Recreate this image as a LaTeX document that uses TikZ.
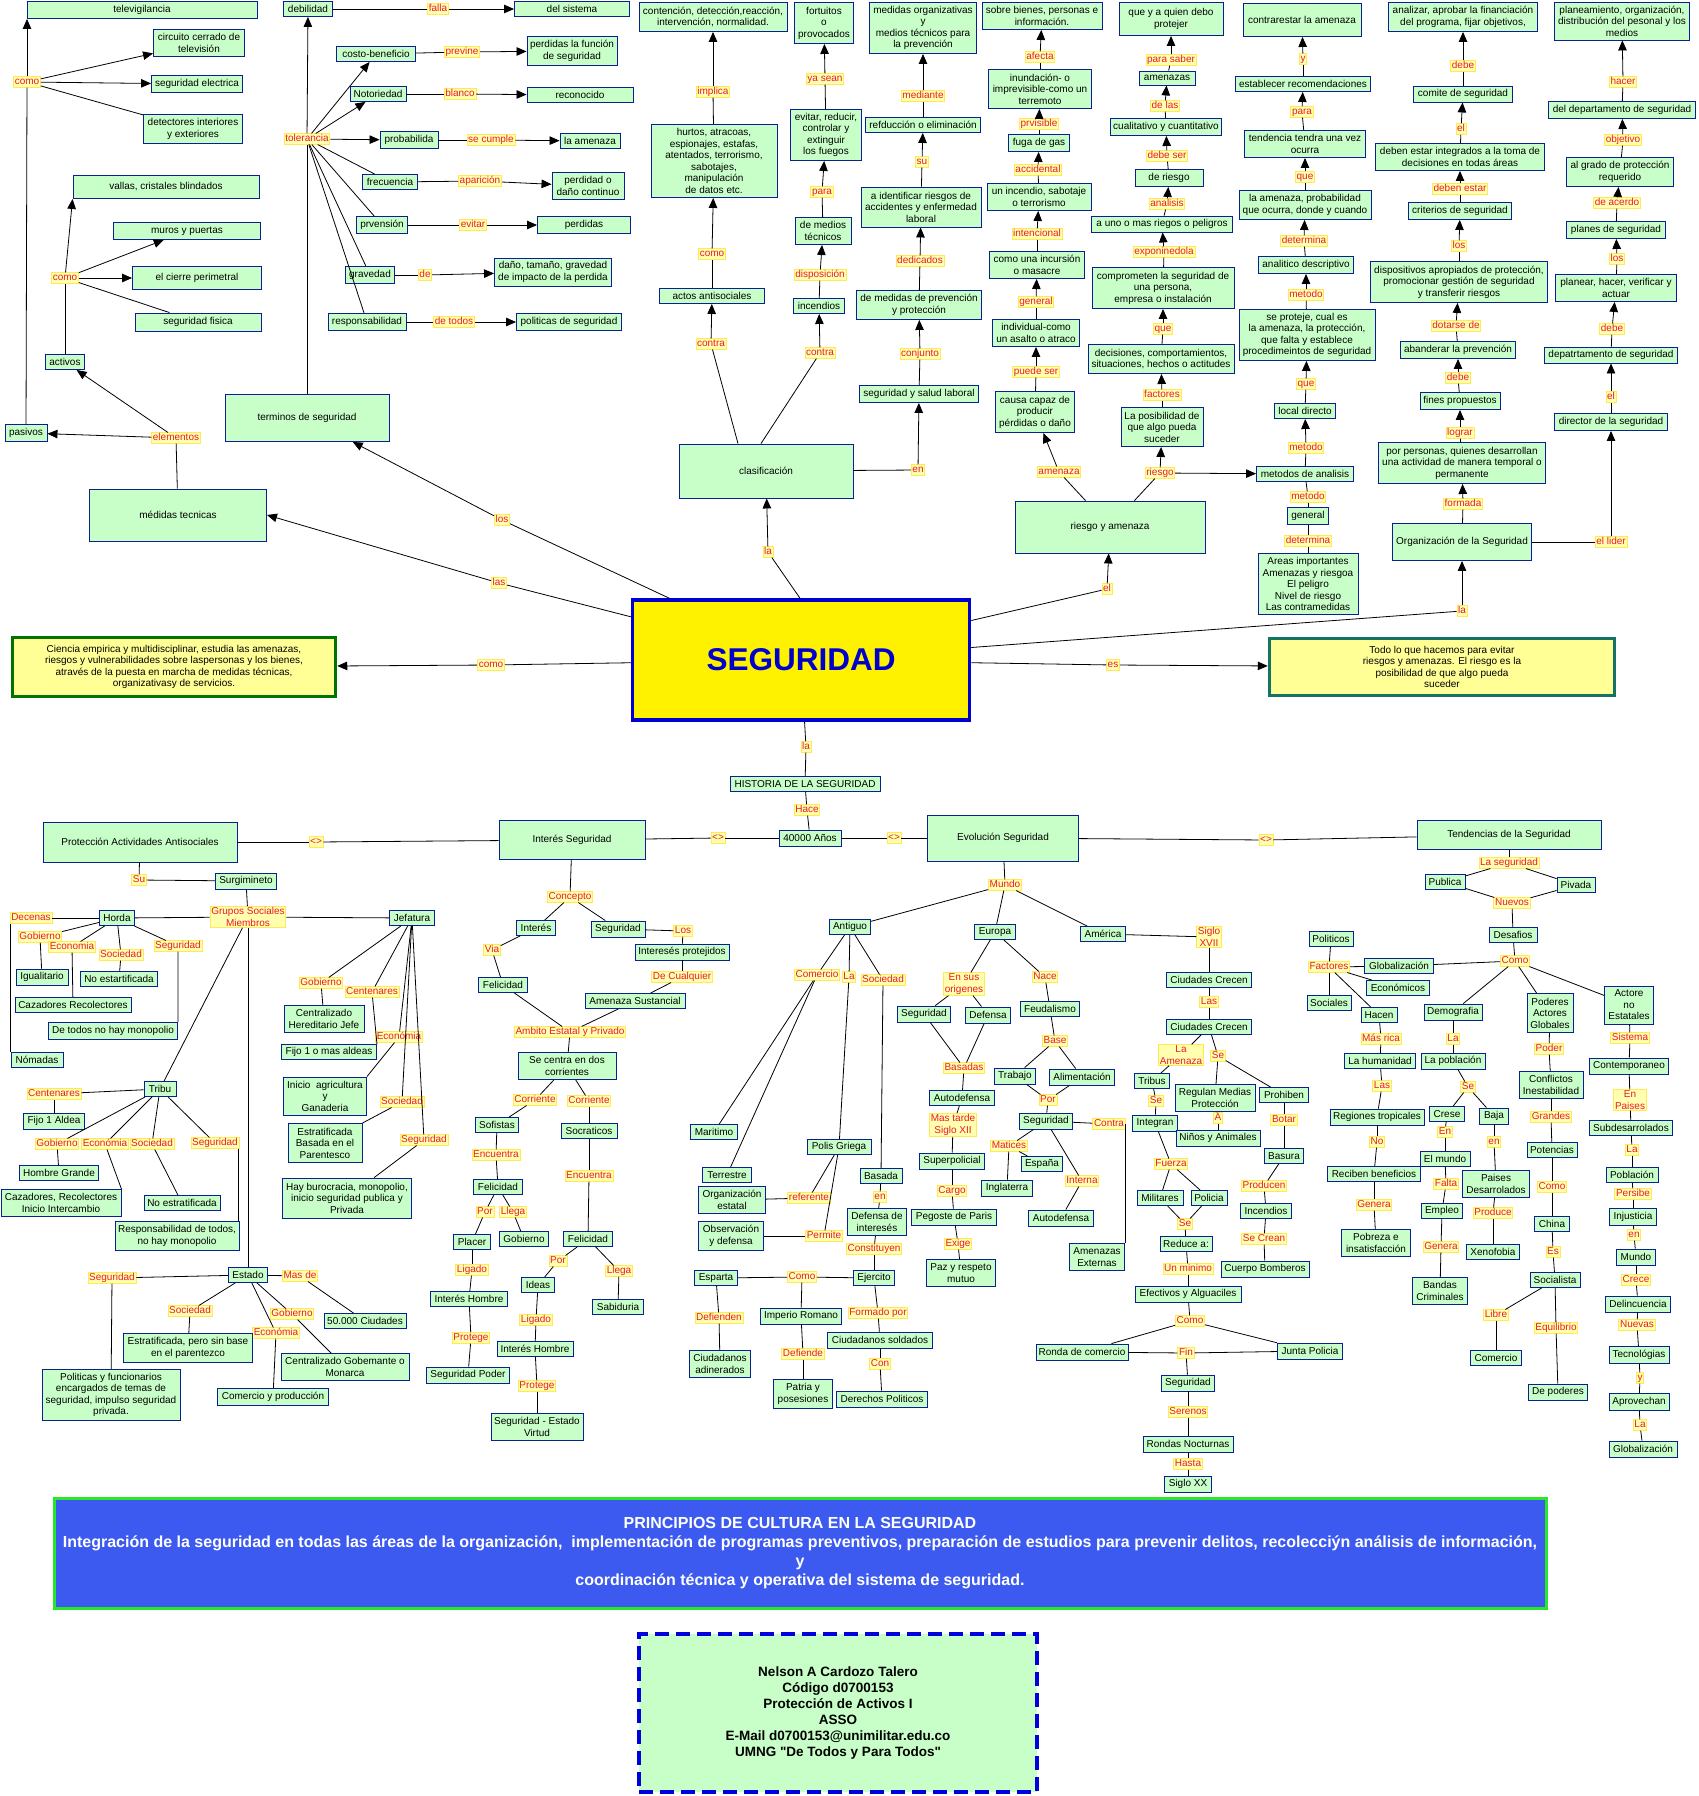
\documentclass[tikz,border=0pt]{standalone}
\usepackage{fontspec}
\setmainfont{Liberation Sans}
\usetikzlibrary{arrows.meta}
\definecolor{gfill}{RGB}{200,255,200}
\definecolor{bdr}{RGB}{10,30,150}
\definecolor{lfill}{RGB}{255,255,175}
\definecolor{lbd}{RGB}{255,235,80}
\definecolor{ltx}{RGB}{235,25,50}
\definecolor{segb}{RGB}{0,0,205}
\definecolor{ylw}{RGB}{255,255,150}
\definecolor{dkg}{RGB}{0,115,0}
\definecolor{tealb}{RGB}{20,115,100}
\definecolor{pblue}{RGB}{60,90,240}
\definecolor{pgreen}{RGB}{40,230,40}
\definecolor{dashb}{RGB}{0,0,220}
\newcommand\fsz{\fontsize{10}{11.5}\selectfont}
\tikzset{
 bx/.style={draw=bdr,fill=gfill,line width=0.9pt,inner xsep=2pt,inner ysep=1pt,font=\fsz,align=center,text=black},
 lb/.style={draw=lbd,fill=lfill,line width=0.8pt,inner xsep=1.2pt,inner ysep=0.5pt,font=\fsz,text=ltx,text height=7.3pt,text depth=2pt},
 lb2/.style={draw=lbd,fill=lfill,line width=0.8pt,inner xsep=1.2pt,inner ysep=1pt,font=\fsz,text=ltx,align=center},
 cn/.style={line width=0.8pt,black},
 arw/.style={line width=0.8pt,black,-{Triangle[length=10pt,width=8.5pt]}},
 segst/.style={draw=segb,line width=3.5pt,fill=yellow,text=segb,font=\fontsize{31.5}{36}\selectfont\bfseries},
 cist/.style={draw=dkg,line width=3.5pt,fill=ylw},
 tost/.style={draw=tealb,line width=3.5pt,fill=ylw},
}
\newcommand\Bx[7][]{\node[bx,minimum width=#5,minimum height=#6,#1] (#2) at (#3,#4) {#7};}
\newcommand\Lb[4]{\node[lb] (#1) at (#2,#3) {#4};}
\newcommand\Lbb[4]{\node[lb2] (#1) at (#2,#3) {#4};}
\begin{document}
\begin{tikzpicture}[x=1pt,y=-1pt]
\fill[white] (0,0) rectangle (1698,1796);
\useasboundingbox (0,0) rectangle (1698,1796);
% ---------- upper left
\Bx{tele}{142}{10}{230}{17}{televigilancia}
\Bx{cct}{199}{43}{91}{27}{circuito cerrado de\\televisión}
\Bx{sele}{197}{84}{91}{17}{seguridad electrica}
\Bx{det}{193}{129}{99}{29}{detectores interiores\\y exteriores}
\Lb{como1}{27}{82}{como}
\Bx{vall}{166}{187}{186}{23}{vallas, cristales blindados}
\Bx{muros}{187}{231}{147}{17}{muros y puertas}
\Bx{cierre}{197}{278}{129}{23}{el cierre perimetral}
\Bx{sfis}{198}{322}{126}{18}{seguridad fisica}
\Lb{como2}{65}{278}{como}
\Bx{activ}{65}{362}{39}{15}{activos}
\Bx{pasiv}{26}{433}{42}{17}{pasivos}
\Lb{elem}{176}{438}{elementos}
\Bx{medt}{178}{515}{177}{52}{médidas tecnicas}
\Bx{term}{307}{418}{164}{47}{terminos de seguridad}
\Lb{los1}{502}{520}{los}
\Lb{las1}{499}{583}{las}
\Bx[cist]{cien}{174}{667}{323}{59}{Ciencia empirica y multidisciplinar, estudia las amenazas,\\riesgos y vulnerabilidades sobre laspersonas y los bienes,\\através de la puesta en marcha de medidas técnicas,\\organizativasy de servicios.}
\Lb{como3}{491}{665}{como}
\Bx{debil}{308}{9}{49}{15}{debilidad}
\Lb{falla}{438}{9}{falla}
\Bx{dsis}{572}{9}{115}{15}{del sistema}
\Bx{costo}{376}{54}{79}{15}{costo-beneficio}
\Lb{prev}{462}{52}{previne}
\Bx{perfs}{572}{51}{90}{29}{perdidas la función\\de seguridad}
\Bx{notor}{378}{94}{56}{15}{Notoriedad}
\Lb{blanco}{460}{94}{blanco}
\Bx{recon}{580}{95}{106}{15}{reconocido}
\Lb{toler}{307}{139}{tolerancia}
\Bx{proba}{409}{140}{58}{17}{probabilida}
\Lb{secum}{491}{140}{se cumple}
\Bx{lamen}{590}{141}{60}{15}{la amenaza}
\Bx{frec}{390}{182}{55}{15}{frecuencia}
\Lb{apar}{480}{181}{aparición}
\Bx{perdc}{588}{186}{72}{27}{perdidad o\\daño continuo}
\Bx{prven}{382}{225}{51}{17}{prvensión}
\Lb{evit}{473}{225}{evitar}
\Bx{perd}{584}{225}{93}{17}{perdidas}
\Bx{grav}{370}{275}{49}{17}{gravedad}
\Lb{de1}{425}{275}{de}
\Bx{dano}{553}{272}{117}{28}{daño, tamaño, gravedad\\de impacto de la perdida}
\Bx{resp}{367}{322}{78}{17}{responsabilidad}
\Lb{detod}{454}{322}{de todos}
\Bx{polit}{569}{322}{105}{17}{politicas de seguridad}
% ---------- clasificacion
\Bx{cont}{713}{17}{148}{29}{contención, detección,reacción,\\intervención, normalidad.}
\Lb{impl}{713}{92}{implica}
\Bx{hurt}{714}{161}{126}{73}{hurtos, atracoas,\\espionajes, estafas,\\atentados, terrorismo,\\sabotajes,\\manipulación\\de datos etc.}
\Lb{como4}{712}{254}{como}
\Bx{actos}{712}{296}{105}{15}{actos antisociales}
\Lb{contr1}{711}{344}{contra}
\Bx{fort}{824}{23}{59}{41}{fortuitos\\o\\provocados}
\Lb{yasean}{825}{79}{ya sean}
\Bx{evred}{826}{135}{71}{51}{evitar, reducir,\\controlar y\\extinguir\\los fuegos}
\Lb{para1}{822}{192}{para}
\Bx{dmt}{823}{231}{56}{27}{de medios\\técnicos}
\Lb{disp}{820}{275}{disposición}
\Bx{incen}{819}{306}{51}{15}{incendios}
\Lb{contr2}{820}{353}{contra}
\Bx{medorg}{923}{28}{107}{51}{medidas organizativas\\y\\medios técnicos para\\la prevención}
\Lb{mediante}{923}{96}{mediante}
\Bx{refd}{923}{125}{115}{15}{refducción o eliminación}
\Lb{su1}{922}{162}{su}
\Bx{aiden}{921}{207}{120}{40}{a identificar riesgos de\\accidentes y enfermedad\\laboral}
\Lb{dedic}{920}{261}{dedicados}
\Bx{dmpp}{919}{305}{125}{29}{de medidas de prevención\\y protección}
\Lb{conj}{920}{354}{conjunto}
\Bx{ssl}{919}{394}{119}{17}{seguridad y salud laboral}
\Bx{clas}{766}{471}{174}{54}{clasificación}
\Lb{en1}{918}{470}{en}
\Lb{la1}{768}{552}{la}
% ---------- riesgo y amenaza
\Bx{sobre}{1042}{16}{120}{27}{sobre bienes, personas e\\información.}
\Lb{afecta}{1040}{57}{afecta}
\Bx{inund}{1040}{89}{103}{39}{inundación- o\\imprevisible-como un\\terremoto}
\Lb{prvis}{1039}{124}{prvisible}
\Bx{fuga}{1039}{143}{61}{17}{fuga de gas}
\Lb{accid}{1038}{170}{accidental}
\Bx{uninc}{1039}{197}{104}{27}{un incendio, sabotaje\\o terrorismo}
\Lb{inten}{1037}{234}{intencional}
\Bx{incur}{1037}{265}{95}{27}{como una incursión\\o masacre}
\Lb{gene1}{1036}{302}{general}
\Bx{indiv}{1036}{333}{87}{27}{individual-como\\un asalto o atraco}
\Lb{puede}{1036}{372}{puede ser}
\Bx{causa}{1035}{412}{79}{41}{causa capaz de\\producir\\pérdidas o daño}
\Lb{amen1}{1059}{472}{amenaza}
\Bx{riam}{1110}{527}{190}{52}{riesgo y amenaza}
\Lb{el1}{1107}{589}{el}
\Bx{quien}{1171}{19}{104}{33}{que y a quien debo\\protejer}
\Lb{psaber}{1171}{60}{para saber}
\Bx{amzs}{1167}{78}{56}{14}{amenazas}
\Lb{delas}{1165}{106}{de las}
\Bx{cual}{1166}{127}{111}{17}{cualitativo y cuantitativo}
\Lb{debser}{1167}{156}{debe ser}
\Bx{deri}{1169}{178}{68}{17}{de riesgo}
\Lb{anal}{1167}{204}{analisis}
\Bx{auno}{1162}{224}{141}{16}{a uno o mas riegos o peligros}
\Lb{expo}{1164}{252}{exponinedola}
\Bx{comp}{1163}{288}{142}{41}{comprometen la seguridad de\\una persona,\\empresa o instalación}
\Lb{que1}{1163}{329}{que}
\Bx{decis}{1161}{359}{146}{29}{decisiones, comportamientos,\\situaciones, hechos o actitudes}
\Lb{fact1}{1162}{395}{factores}
\Bx{posib}{1162}{427}{82}{39}{La posibilidad de\\que algo pueda\\suceder}
\Lb{riesg}{1160}{473}{riesgo}
\Bx{contra}{1302}{20}{118}{33}{contrarestar la amenaza}
\Lb{y1}{1303}{59}{y}
\Bx{estab}{1303}{84}{135}{15}{establecer recomendaciones}
\Lb{para2}{1302}{112}{para}
\Bx{tend}{1305}{144}{121}{27}{tendencia tendra una vez\\ocurra}
\Lb{que2}{1305}{177}{que}
\Bx{lamp}{1305}{205}{132}{29}{la amenaza, probabilidad\\que ocurra, donde y cuando}
\Lb{deter1}{1304}{241}{determina}
\Bx{analit}{1306}{265}{95}{17}{analitico descriptivo}
\Lb{met1}{1306}{295}{metodo}
\Bx{seprot}{1307}{335}{136}{51}{se proteje, cual es\\la amenaza, la protección,\\que falta y establece\\procedimeintos de seguridad}
\Lb{que3}{1306}{384}{que}
\Bx{locd}{1305}{411}{61}{15}{local directo}
\Lb{met2}{1306}{448}{metodo}
\Bx{metan}{1305}{474}{97}{15}{metodos de analisis}
\Lb{met3}{1308}{497}{metodo}
\Bx{gener}{1308}{516}{41}{17}{general}
\Lb{deter2}{1308}{541}{determina}
\Bx{areas}{1308}{584}{100}{61}{Areas importantes\\Amenazas y riesgoa\\El peligro\\Nivel de riesgo\\Las contramedidas}
% ---------- organizacion
\Bx{analiz}{1463}{17}{149}{29}{analizar, aprobar la financiación\\del programa, fijar objetivos,}
\Lb{debe1}{1463}{66}{debe}
\Bx{comite}{1463}{94}{99}{16}{comite de seguridad}
\Lb{el2}{1461}{129}{el}
\Bx{debint}{1460}{157}{169}{27}{deben estar integrados a la toma de\\decisiones en todas áreas}
\Lb{debest}{1460}{189}{deben estar}
\Bx{crit}{1460}{211}{103}{17}{criterios de seguridad}
\Lb{los2}{1459}{246}{los}
\Bx{dispo}{1459}{282}{177}{41}{dispositivos apropiados de protección,\\promocionar gestión de seguridad\\y transferir riesgos}
\Lb{dotar}{1456}{326}{dotarse de}
\Bx{aband}{1458}{350}{115}{17}{abanderar la prevención}
\Lb{debe2}{1458}{378}{debe}
\Bx{fines}{1460}{401}{80}{17}{fines propuestos}
\Lb{lograr}{1460}{433}{lograr}
\Bx{porper}{1462}{463}{167}{41}{por personas, quienes desarrollan\\una actividad de manera temporal o\\permanente}
\Lb{formada}{1463}{504}{formada}
\Bx{orgs}{1462}{542}{139}{37}{Organización de la Seguridad}
\Lb{la2}{1462}{611}{la}
\Lb{elider}{1611}{542}{el lider}
\Bx{direc}{1611}{422}{113}{17}{director de la seguridad}
\Lb{el3}{1611}{397}{el}
\Bx{depat}{1611}{355}{133}{16}{depatrtamento de seguridad}
\Lb{debe3}{1612}{329}{debe}
\Bx{planear}{1616}{288}{121}{27}{planear, hacer, verificar y\\actuar}
\Lb{los3}{1617}{259}{los}
\Bx{planes}{1616}{230}{99}{17}{planes de seguridad}
\Lb{deacu}{1617}{203}{de acerdo}
\Bx{grado}{1620}{172}{107}{29}{al grado de protección\\requerido}
\Lb{objet}{1623}{140}{objetivo}
\Bx{deldep}{1622}{110}{147}{17}{del departamento de seguridad}
\Lb{hacer}{1623}{82}{hacer}
\Bx{planea}{1622}{21}{135}{38}{planeamiento, organización,\\distribución del pesonal y los\\medios}
% ---------- center
\Bx[segst]{seg}{801}{660}{337}{120}{SEGURIDAD}
\Lb{es1}{1113}{665}{es}
\Bx[tost]{todo}{1442}{667}{345}{57}{Todo lo que hacemos para evitar\\riesgos y amenazas. El riesgo es la\\posibilidad de que algo pueda\\suceder}
\Lb{la3}{806}{747}{la}
% ---------- historia
\Bx{hist}{805}{784}{150}{15}{HISTORIA DE LA SEGURIDAD}
\Lb{hace}{807}{810}{Hace}
\Bx{anos}{810}{838}{62}{16}{40000 Años}
\Lb{ne1}{718}{838}{<>}
\Lb{ne2}{894}{838}{<>}
\Bx{intseg}{572}{840}{146}{39}{Interés Seguridad}
\Lb{ne3}{316}{842}{<>}
\Bx{protac}{140}{842}{194}{40}{Protección Actividades Antisociales}
\Bx{evol}{1003}{838}{151}{46}{Evolución Seguridad}
\Lb{ne4}{1266}{840}{<>}
\Bx{tendS}{1509}{835}{184}{29}{Tendencias de la Seguridad}
% ---------- proteccion subtree
\Lb{su2}{139}{880}{Su}
\Bx{surg}{246}{881}{61}{16}{Surgimineto}
\Lbb{grup}{248}{917}{Grupos Sociales\\Miembros}
\Bx{horda}{117}{918}{35}{15}{Horda}
\Lb{decen}{31}{918}{Decenas}
\Bx{jefa}{412}{918}{45}{15}{Jefatura}
\Lb{gobH}{40}{937}{Gobierno}
\Lb{ecoH}{72}{947}{Economia}
\Lb{socH}{121}{955}{Sociedad}
\Lb{segH}{178}{946}{Seguridad}
\Bx{igual}{42}{977}{52}{16}{Igualitario}
\Bx{noest}{119}{979}{77}{15}{No estartificada}
\Bx{cazr}{73}{1005}{116}{15}{Cazadores Recolectores}
\Bx{detodos}{113}{1031}{129}{17}{De todos no hay monopolio}
\Bx{nomad}{37}{1060}{52}{15}{Nómadas}
\Lb{gobJ}{321}{983}{Gobierno}
\Lb{cenJ}{372}{992}{Centenares}
\Bx{centh}{324}{1019}{80}{27}{Centralizado\\Hereditario Jefe}
\Lb{ecoJ}{399}{1037}{Económia}
\Bx{fijo1}{329}{1052}{95}{15}{Fijo 1 o mas aldeas}
\Bx{inicio}{325}{1096}{83}{38}{Inicio\ \ agricultura\\y\\Ganaderia}
\Lb{socJ}{402}{1102}{Sociedad}
\Bx{estpar}{325}{1143}{74}{39}{Estratificada\\Basada en el\\Parentesco}
\Lb{segJ}{424}{1140}{Seguridad}
\Bx{hayb}{347}{1198}{129}{40}{Hay burocracia, monopolio,\\inicio seguridad publica y\\Privada}
\Bx{tribu}{160}{1089}{32}{15}{Tribu}
\Lb{cenT}{54}{1094}{Centenares}
\Bx{fijoal}{54}{1121}{61}{16}{Fijo 1 Aldea}
\Lb{gobT}{57}{1144}{Gobierno}
\Lb{ecoT}{105}{1144}{Económia}
\Lb{socT}{152}{1144}{Sociedad}
\Lb{segT}{215}{1143}{Seguridad}
\Bx{hombg}{59}{1173}{79}{15}{Hombre Grande}
\Bx{cazri}{61}{1203}{120}{27}{Cazadores, Recolectores\\Inicio Intercambio}
\Bx{noestr}{182}{1203}{76}{15}{No estratificada}
\Bx{respt}{177}{1236}{124}{29}{Responsabilidad de todos,\\no hay monopolio}
\Bx{estado}{248}{1275}{39}{15}{Estado}
\Lb{segE}{112}{1278}{Seguridad}
\Lb{masde}{300}{1276}{Mas de}
\Lb{socE}{190}{1311}{Sociedad}
\Lb{gobE}{292}{1314}{Gobierno}
\Bx{ciud50}{365}{1321}{82}{15}{50.000 Ciudades}
\Lb{ecoE}{276}{1333}{Económia}
\Bx{estsin}{188}{1348}{129}{29}{Estratificada, pero sin base\\en el parentezco}
\Bx{cgm}{345}{1367}{128}{27}{Centralizado Gobemante o\\Monarca}
\Bx{polfun}{111}{1395}{138}{51}{Politicas y funcionarios\\encargados de temas de\\seguridad, impulso seguridad\\privada.}
\Bx{comprod}{273}{1397}{111}{17}{Comercio y producción}
% ---------- interes seguridad subtree
\Lb{concep}{570}{897}{Concepto}
\Bx{inter}{536}{928}{39}{15}{Interés}
\Bx{segIS}{618}{929}{54}{16}{Seguridad}
\Lb{los4}{683}{931}{Los}
\Lb{via}{492}{950}{Via}
\Bx{intp}{682}{952}{94}{16}{Interesés protejidos}
\Bx{felic}{503}{985}{49}{15}{Felicidad}
\Lb{decual}{682}{977}{De Cualquier}
\Bx{amsus}{635}{1001}{100}{15}{Amenaza Sustancial}
\Lb{ambito}{570}{1032}{Ambito Estatal y Privado}
\Bx{secen}{567}{1066}{98}{27}{Se centra en dos\\corrientes}
\Lb{corrL}{535}{1100}{Corriente}
\Lb{corrR}{589}{1101}{Corriente}
\Bx{sofis}{497}{1125}{43}{15}{Sofistas}
\Bx{socra}{589}{1131}{56}{15}{Socraticos}
\Lb{encL}{496}{1155}{Encuentra}
\Lb{encR}{589}{1176}{Encuentra}
\Bx{felL}{498}{1187}{49}{15}{Felicidad}
\Bx{felR}{588}{1239}{49}{15}{Felicidad}
\Lb{porL}{485}{1212}{Por}
\Lb{llegL}{513}{1212}{Llega}
\Bx{placer}{472}{1242}{37}{15}{Placer}
\Bx{gobL}{524}{1239}{49}{15}{Gobierno}
\Lb{ligL}{472}{1270}{Ligado}
\Bx{ihL}{469}{1299}{77}{15}{Interés Hombre}
\Lb{proL}{471}{1338}{Protege}
\Bx{segpod}{468}{1375}{83}{16}{Seguridad Poder}
\Lb{porR}{558}{1261}{Por}
\Lb{llegR}{619}{1271}{Llega}
\Bx{ideas}{538}{1285}{33}{15}{Ideas}
\Bx{sabid}{618}{1307}{51}{15}{Sabiduria}
\Lb{ligR}{536}{1320}{Ligado}
\Bx{ihR}{535}{1349}{76}{15}{Interés Hombre}
\Lb{proR}{537}{1386}{Protege}
\Bx{segev}{537}{1427}{92}{27}{Seguridad - Estado\\Virtud}
% ---------- evolucion subtree
\Lb{mundo}{1005}{885}{Mundo}
\Bx{antig}{850}{927}{41}{15}{Antiguo}
\Bx{europa}{995}{932}{41}{15}{Europa}
\Bx{amer}{1103}{934}{45}{15}{América}
\Lb{comer}{817}{975}{Comercio}
\Lb{laA}{849}{977}{La}
\Lb{socA}{883}{980}{Sociedad}
\Bx{marit}{714}{1132}{47}{15}{Maritimo}
\Bx{polis}{839}{1147}{64}{15}{Polis Griega}
\Bx{terr}{727}{1175}{49}{15}{Terrestre}
\Bx{orgest}{732}{1200}{67}{27}{Organización\\estatal}
\Lb{refer}{809}{1198}{referente}
\Bx{obsdef}{731}{1236}{65}{29}{Observación\\y defensa}
\Lb{permite}{824}{1236}{Permite}
\Bx{basada}{881}{1176}{42}{15}{Basada}
\Lb{en2}{880}{1197}{en}
\Bx{defint}{877}{1222}{59}{27}{Defensa de\\interesés}
\Lb{constit}{874}{1249}{Constituyen}
\Bx{espar}{716}{1278}{43}{15}{Esparta}
\Lb{comoA}{802}{1277}{Como}
\Bx{ejerc}{874}{1278}{41}{15}{Ejercito}
\Lb{defien}{719}{1318}{Defienden}
\Bx{ciuada}{720}{1364}{61}{27}{Ciudadanos\\adinerados}
\Bx{imprm}{801}{1316}{81}{16}{Imperio Romano}
\Lb{defie}{803}{1354}{Defiende}
\Bx{patria}{803}{1394}{59}{29}{Patria y\\posesiones}
\Lb{formp}{878}{1313}{Formado por}
\Bx{ciusol}{880}{1340}{105}{16}{Ciudadanos soldados}
\Lb{con1}{880}{1364}{Con}
\Bx{derpol}{882}{1399}{91}{16}{Derechos Politicos}
\Lbb{ensus}{964}{984}{En sus\\origenes}
\Lb{nace}{1045}{977}{Nace}
\Bx{segEu}{924}{1014}{53}{16}{Seguridad}
\Bx{defen}{988}{1015}{45}{16}{Defensa}
\Bx{feud}{1050}{1009}{59}{15}{Feudalismo}
\Lb{base}{1055}{1041}{Base}
\Lb{basad}{964}{1068}{Basadas}
\Bx{trab}{1015}{1076}{41}{16}{Trabajo}
\Bx{alim}{1082}{1077}{65}{16}{Alimentación}
\Bx{autod}{962}{1098}{65}{15}{Autodefensa}
\Lb{por1}{1048}{1100}{Por}
\Lbb{mastar}{953}{1125}{Mas tarde\\Siglo XII}
\Bx{segP}{1046}{1121}{53}{16}{Seguridad}
\Lb{contra3}{1109}{1124}{Contra}
\Lb{matic}{1009}{1146}{Matices}
\Bx{superp}{952}{1161}{65}{16}{Superpolicial}
\Bx{espana}{1042}{1164}{41}{15}{España}
\Bx{ingla}{1007}{1188}{51}{16}{Inglaterra}
\Lb{interna}{1082}{1181}{Interna}
\Lb{cargo}{952}{1191}{Cargo}
\Bx{pegos}{954}{1217}{85}{16}{Pegoste de Paris}
\Bx{autod2}{1061}{1218}{65}{16}{Autodefensa}
\Lb{exige}{958}{1244}{Exige}
\Bx{amext}{1097}{1257}{55}{27}{Amenazas\\Externas}
\Bx{paz}{961}{1273}{69}{27}{Paz y respeto\\mutuo}
\Lbb{s17}{1209}{937}{Siglo\\XVII}
\Bx{cc1}{1209}{980}{85}{15}{Ciudades Crecen}
\Lb{las2}{1209}{1002}{Las}
\Bx{cc2}{1209}{1027}{85}{15}{Ciudades Crecen}
\Lbb{laam}{1181}{1055}{La\\Amenaza}
\Lb{se1}{1218}{1056}{Se}
\Bx{tribus}{1152}{1081}{35}{15}{Tribus}
\Bx{regul}{1215}{1098}{80}{27}{Regulan Medias\\Protección}
\Bx{prohib}{1284}{1095}{49}{15}{Prohiben}
\Lb{se2}{1156}{1101}{Se}
\Bx{integ}{1155}{1123}{45}{16}{Integran}
\Lb{a1}{1218}{1118}{A}
\Bx{ninos}{1218}{1138}{84}{16}{Niños y Animales}
\Lb{botar}{1284}{1120}{Botar}
\Bx{basura}{1284}{1156}{39}{15}{Basura}
\Lb{fuerza}{1171}{1164}{Fuerza}
\Bx{milit}{1160}{1198}{46}{15}{Militares}
\Bx{polic}{1209}{1198}{36}{15}{Policia}
\Lb{se3}{1185}{1224}{Se}
\Bx{reduce}{1186}{1244}{52}{15}{Reduce a:}
\Lb{unmin}{1188}{1269}{Un minimo}
\Bx{efect}{1188}{1294}{106}{16}{Efectivos y Alguaciles}
\Lb{como5}{1190}{1321}{Como}
\Bx{ronda}{1082}{1352}{92}{16}{Ronda de comercio}
\Lb{fin}{1186}{1353}{Fin}
\Bx{junta}{1310}{1351}{65}{16}{Junta Policia}
\Bx{segF}{1188}{1383}{53}{16}{Seguridad}
\Lb{seren}{1188}{1412}{Serenos}
\Bx{rondas}{1188}{1444}{90}{16}{Rondas Nocturnas}
\Lb{hasta}{1188}{1464}{Hasta}
\Bx{s20}{1188}{1484}{47}{16}{Siglo XX}
\Lb{produ}{1264}{1186}{Producen}
\Bx{incen2}{1266}{1211}{51}{15}{Incendios}
\Lb{secrean}{1264}{1239}{Se Crean}
\Bx{cuerpo}{1265}{1269}{88}{16}{Cuerpo Bomberos}
% ---------- tendencias subtree
\Lb{laseg}{1509}{863}{La seguridad}
\Bx{publ}{1445}{882}{40}{15}{Publica}
\Bx{pivad}{1576}{885}{38}{15}{Pivada}
\Lb{nuevos}{1512}{903}{Nuevos}
\Bx{desaf}{1513}{935}{48}{15}{Desafios}
\Lb{comoT}{1515}{961}{Como}
\Bx{politi}{1331}{939}{44}{15}{Politicos}
\Lb{factT}{1329}{967}{Factores}
\Bx{globa}{1399}{966}{69}{15}{Globalización}
\Bx{econo}{1398}{988}{63}{15}{Económicos}
\Bx{socia}{1329}{1003}{44}{15}{Sociales}
\Bx{hacen}{1379}{1015}{36}{15}{Hacen}
\Lb{masrica}{1381}{1039}{Más rica}
\Bx{human}{1380}{1061}{71}{15}{La humanidad}
\Lb{las3}{1382}{1086}{Las}
\Bx{regtr}{1377}{1117}{94}{16}{Regiones tropicales}
\Lb{no1}{1377}{1142}{No}
\Bx{recib}{1374}{1174}{93}{15}{Reciben beneficios}
\Lb{genera1}{1374}{1205}{Genera}
\Bx{pobre}{1376}{1243}{69}{27}{Pobreza e\\insatisfacción}
\Bx{demog}{1453}{1012}{58}{16}{Demografia}
\Lb{laD}{1453}{1039}{La}
\Bx{lapob}{1453}{1061}{64}{16}{La población}
\Lb{se4}{1468}{1087}{Se}
\Bx{crese}{1447}{1114}{35}{15}{Crese}
\Bx{baja}{1494}{1116}{29}{16}{Baja}
\Lb{en3}{1445}{1132}{En}
\Lb{en4}{1494}{1142}{en}
\Bx{elmun}{1445}{1159}{50}{15}{El mundo}
\Lb{falta}{1446}{1184}{Falta}
\Bx{empleo}{1442}{1211}{41}{15}{Empleo}
\Lb{genera2}{1441}{1247}{Genera}
\Bx{bandas}{1440}{1291}{55}{27}{Bandas\\Criminales}
\Bx{paises}{1496}{1184}{67}{27}{Paises\\Desarrolados}
\Lb{produce}{1493}{1213}{Produce}
\Bx{xeno}{1493}{1252}{53}{15}{Xenofobia}
\Bx{poder}{1550}{1013}{46}{39}{Poderes\\Actores\\Globales}
\Lb{podl}{1549}{1049}{Poder}
\Bx{confl}{1551}{1085}{64}{27}{Conflictos\\Inestabilidad}
\Lb{grandes}{1551}{1117}{Grandes}
\Bx{poten}{1552}{1150}{50}{15}{Potencias}
\Lb{comoC}{1552}{1187}{Como}
\Bx{china}{1552}{1224}{35}{15}{China}
\Lb{es2}{1553}{1252}{Es}
\Bx{social}{1555}{1280}{50}{15}{Socialista}
\Lb{libre}{1496}{1315}{Libre}
\Bx{comer2}{1496}{1358}{51}{15}{Comercio}
\Lb{equil}{1556}{1328}{Equilibrio}
\Bx{depod}{1558}{1392}{59}{16}{De poderes}
\Bx{actore}{1629}{1005}{49}{38}{Actore\\no\\Estatales}
\Lb{sistema}{1630}{1038}{Sistema}
\Bx{contem}{1629}{1066}{79}{16}{Contemporaneo}
\Lbb{enpai}{1630}{1100}{En\\Paises}
\Bx{subde}{1631}{1128}{83}{15}{Subdesarrolados}
\Lb{la4}{1632}{1150}{La}
\Bx{pobla}{1632}{1175}{52}{15}{Población}
\Lb{persibe}{1633}{1194}{Persibe}
\Bx{injus}{1633}{1217}{47}{17}{Injusticia}
\Lb{en5}{1634}{1235}{en}
\Bx{mundo2}{1636}{1257}{39}{16}{Mundo}
\Lb{crece}{1636}{1280}{Crece}
\Bx{delin}{1638}{1304}{65}{16}{Delincuencia}
\Lb{nuevas}{1637}{1325}{Nuevas}
\Bx{tecno}{1639}{1355}{60}{17}{Tecnológias}
\Lb{y2}{1640}{1378}{y}
\Bx{aprov}{1639}{1402}{60}{17}{Aprovechan}
\Lb{la5}{1640}{1425}{La}
\Bx{globa2}{1643}{1449}{68}{16}{Globalización}
% ---------- bottom boxes
\node[draw=pgreen,line width=3pt,fill=pblue,text=white,minimum width=1492,minimum height=110,align=center,font=\fontsize{16}{19}\selectfont\bfseries] (princ) at (800,1553) {PRINCIPIOS DE CULTURA EN LA SEGURIDAD\\Integración de la seguridad en todas las áreas de la organización,\ \ implementación de programas preventivos, preparación de estudios para prevenir delitos, recolecciýn análisis de información,\\y\\coordinación técnica y operativa del sistema de seguridad.};
\node[draw=dashb,dash pattern=on 14pt off 7pt,line width=3.5pt,fill=gfill,minimum width=398,minimum height=158,align=center,font=\fontsize{13.5}{16}\selectfont\bfseries] (autor) at (838,1713) {Nelson A Cardozo Talero\\Código d0700153\\Protección de Activos I\\ASSO\\E-Mail d0700153@unimilitar.edu.co\\UMNG \textquotedbl De Todos y Para Todos\textquotedbl};
% ---------- connectors upper
\foreach \a/\b in {pasiv/como1, como1/det, activ/como2, como2/sfis, medt/elem, term/toler, toler/frec, toler/prven, toler/grav, toler/resp, debil/falla, costo/prev, notor/blanco, proba/secum, frec/apar, prven/evit, grav/de1, resp/detod, seg/los1, seg/las1, seg/como3, seg/el1, seg/la2, seg/es1, seg/la3, clas/en1, actos/como4, hurt/impl, incen/disp, dmt/para1, evred/yasean, ssl/conj, dmpp/dedic, aiden/su1, refd/mediante, riam/amen1, causa/puede, indiv/gene1, incur/inten, uninc/accid, fuga/prvis, inund/afecta, riam/riesg, posib/fact1, decis/que1, comp/expo, auno/anal, deri/debser, cual/delas, amzs/psaber, metan/met2, locd/que3, seprot/met1, analit/deter1, lamp/que2, tend/para2, estab/y1, metan/met3, met3/gener, gener/deter2, deter2/areas, orgs/formada, porper/lograr, fines/debe2, aband/dotar, dispo/los2, crit/debest, debint/el2, comite/debe1, orgs/elider, direc/el3, depat/debe3, planear/los3, planes/deacu, grado/objet, deldep/hacer}
  \draw[cn] (\a) -- (\b);
\draw[cn] ([xshift=-1pt]seg.north) -- (la1);
\draw[cn] ([xshift=-28pt]clas.north) -- (contr1);
\draw[cn] ([xshift=-5pt]clas.north) -- (contr2);
\draw[arw] (como1) -- (como1 |- tele.south);
\draw[arw] (como2) -- (vall.south west);
\foreach \a/\b in {como1/cct, como1/sele, como2/muros, como2/cierre, elem/pasiv, elem/activ, toler/debil, toler/costo, toler/notor, toler/proba, falla/dsis, prev/perfs, blanco/recon, secum/lamen, apar/perdc, evit/perd, de1/dano, detod/polit, los1/term, las1/medt.east, como3/cien, la1/clas, el1/riam, la2/orgs, es1/todo, contr1/actos, como4/hurt, impl/cont, contr2/incen, disp/dmt, para1/evred, yasean/fort, en1/ssl, conj/dmpp, dedic/aiden, su1/refd, mediante/medorg, amen1/causa, puede/indiv, gene1/incur, inten/uninc, accid/fuga, prvis/inund, afecta/sobre, riesg/posib, fact1/decis, que1/comp, expo/auno, anal/deri, debser/cual, delas/amzs, psaber/quien, riesg/metan, met2/locd, que3/seprot, met1/analit, deter1/lamp, que2/tend, para2/estab, y1/contra, formada/porper, lograr/fines, debe2/aband, dotar/dispo, los2/crit, debest/debint, el2/comite, debe1/analiz, elider/direc, el3/depat, debe3/planear, los3/planes, deacu/grado, objet/deldep, hacer/planea}
  \draw[arw] (\a) -- (\b);
% ---------- connectors lower
\foreach \a/\b in {la3/hist, hist/hace, hace/anos, protac/ne3, ne3/intseg, intseg/ne1, ne1/anos, anos/ne2, ne2/evol, evol/ne4, ne4/tendS,
 protac/su2, su2/surg, surg/grup, grup/horda, horda/decen, grup/jefa, grup/tribu, grup/estado,
 horda/gobH, horda/ecoH, horda/socH, horda/segH, gobH/igual, ecoH/cazr, socH/noest, segH/detodos.north east,
 jefa/gobJ, jefa/cenJ, jefa/ecoJ, jefa/socJ, jefa/segJ, gobJ/centh, cenJ/fijo1.north east, ecoJ/inicio.north east, socJ/estpar.north east, segJ/hayb,
 tribu/cenT, cenT/fijoal, tribu/gobT, tribu/ecoT, tribu/socT, tribu/segT, gobT/hombg, ecoT/cazri.north east, socT/noestr,
 estado/segE, segE/polfun, estado/masde, masde/ciud50, estado/socE, socE/estsin, estado/ecoE, ecoE/comprod, estado/gobE, gobE/cgm,
 intseg/concep, concep/inter, concep/segIS, inter/via, via/felic, felic/ambito, segIS/los4, los4/intp, intp/decual, decual/amsus, amsus/ambito, ambito/secen, secen/corrL, secen/corrR, corrL/sofis, corrR/socra, sofis/encL, encL/felL, felL/porL, felL/llegL, porL/placer, llegL/gobL, placer/ligL, ligL/ihL, ihL/proL, proL/segpod, socra/encR, encR/felR, felR/porR, felR/llegR, porR/ideas, llegR/sabid, ideas/ligR, ligR/ihR, ihR/proR, proR/segev,
 evol/mundo, mundo/antig, mundo/europa, mundo/amer,
 antig/comer, antig/laA, antig/socA, comer/marit, comer/terr, laA/polis, socA/basada, polis/refer, refer/orgest, polis/permite, permite/obsdef, basada/en2, en2/defint, defint/constit, constit/ejerc, espar/comoA, comoA/ejerc, comoA/imprm, espar/defien, defien/ciuada, imprm/defie, defie/patria, ejerc/formp, formp/ciusol, ciusol/con1, con1/derpol,
 europa/ensus, europa/nace, ensus/segEu, ensus/defen, segEu/basad, defen/basad, basad/autod, autod/mastar, mastar/superp, superp/cargo, cargo/pegos, pegos/exige, exige/paz, nace/feud, feud/base, base/trab, base/alim, trab/por1, alim/por1, por1/segP, segP/matic, matic/ingla, matic/espana, segP/interna, interna/autod2, segP/contra3,
 amer/s17, s17/cc1, cc1/las2, las2/cc2, cc2/laam, laam/tribus, cc2/se1, se1/regul, se1/prohib, regul/a1, a1/ninos, prohib/botar, botar/basura, basura/produ, produ/incen2, incen2/secrean, secrean/cuerpo, tribus/se2, se2/integ, integ/fuerza, fuerza/milit, fuerza/polic, milit/se3, polic/se3, se3/reduce, reduce/unmin, unmin/efect, efect/como5, como5/ronda, como5/junta, ronda/fin, fin/junta, fin/segF, segF/seren, seren/rondas, rondas/hasta, hasta/s20,
 tendS/laseg, laseg/publ, laseg/pivad, publ/nuevos, pivad/nuevos, nuevos/desaf, desaf/comoT, comoT/globa, globa/factT, factT/politi, factT/socia, factT/econo, factT/hacen, hacen/masrica, masrica/human, human/las3, las3/regtr, regtr/no1, no1/recib, recib/genera1, genera1/pobre,
 comoT/demog, demog/laD, laD/lapob, lapob/se4, se4/crese, se4/baja, crese/en3, en3/elmun, elmun/falta, falta/empleo, empleo/genera2, genera2/bandas, baja/en4, en4/paises, paises/produce, produce/xeno,
 comoT/poder, poder/podl, podl/confl, confl/grandes, grandes/poten, poten/comoC, comoC/china, china/es2, es2/social, social/libre, libre/comer2, social/equil, equil/depod,
 comoT/actore, actore/sistema, sistema/contem, contem/enpai, enpai/subde, subde/la4, la4/pobla, pobla/persibe, persibe/injus, injus/en5, en5/mundo2, mundo2/crece, crece/delin, delin/nuevas, nuevas/tecno, tecno/y2, y2/aprov, aprov/la5, la5/globa2}
  \draw[cn] (\a) -- (\b);
\draw[cn] ([xshift=1pt]decen.south west) -- ([xshift=1pt]decen.south west |- nomad.north);
\draw[cn] ([xshift=-1pt]segT.south east) -- ([xshift=-1pt]segT.south east |- respt.north);
\draw[cn] (contra3.east) -- (contra3.east |- amext.north);
\end{tikzpicture}
\end{document}
